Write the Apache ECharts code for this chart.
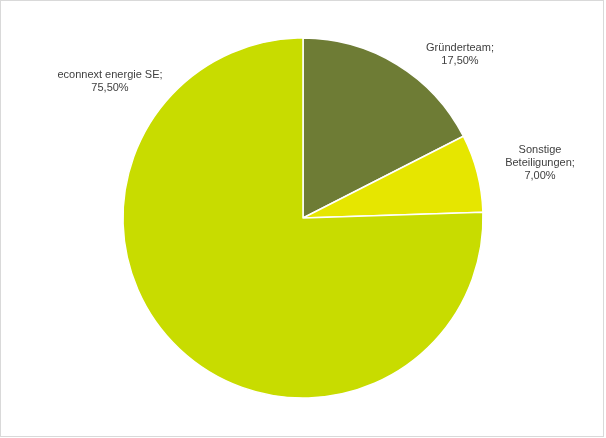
<!DOCTYPE html>
<html><head><meta charset="utf-8">
<script src="https://cdn.jsdelivr.net/npm/echarts@6/dist/echarts.min.js"></script>
<style>
html,body{margin:0;padding:0;background:#fff;}
#frame{position:absolute;left:0;top:0;width:602px;height:435px;border:1px solid #d9d9d9;}
#c{position:absolute;left:0;top:0;width:606px;height:438px;}
</style></head>
<body><div id="frame"></div><div id="c"></div>
<script>
const categories = ['Gründerteam', 'Sonstige Beteiligungen', 'econnext energie SE'];
const labelNames = ['Gründerteam', 'Sonstige\nBeteiligungen', 'econnext energie SE'];
const values = [17.5, 7.0, 75.5];
const colors = ['#6e7c35', '#e6e600', '#c8dc00'];
const labelPos = [[460, 54], [540, 163], [110, 81]];

const chart = echarts.init(document.getElementById('c'), null, {renderer: 'canvas'});
chart.setOption({
  animation: false,
  series: [{
    type: 'pie',
    center: [303, 218],
    radius: [0, 180],
    startAngle: 90,
    clockwise: true,
    data: categories.map((n, i) => ({
      name: n, value: values[i],
      itemStyle: {color: colors[i]}
    })),
    itemStyle: {borderColor: '#fff', borderWidth: 1.5},
    label: {
      show: true,
      position: 'outside',
      formatter: p => labelNames[p.dataIndex] + ';\n' + values[p.dataIndex].toFixed(2).replace('.', ',') + '%',
      fontFamily: 'Liberation Sans, Arial, sans-serif',
      fontSize: 11,
      lineHeight: 13,
      color: '#404040',
      align: 'center',
      overflow: 'none',
      width: 200
    },
    labelLine: {show: false},
    labelLayout: p => ({
      x: labelPos[p.dataIndex][0],
      y: labelPos[p.dataIndex][1],
      align: 'center',
      verticalAlign: 'middle'
    }),
    emphasis: {disabled: true}
  }]
});
</script></body></html>
